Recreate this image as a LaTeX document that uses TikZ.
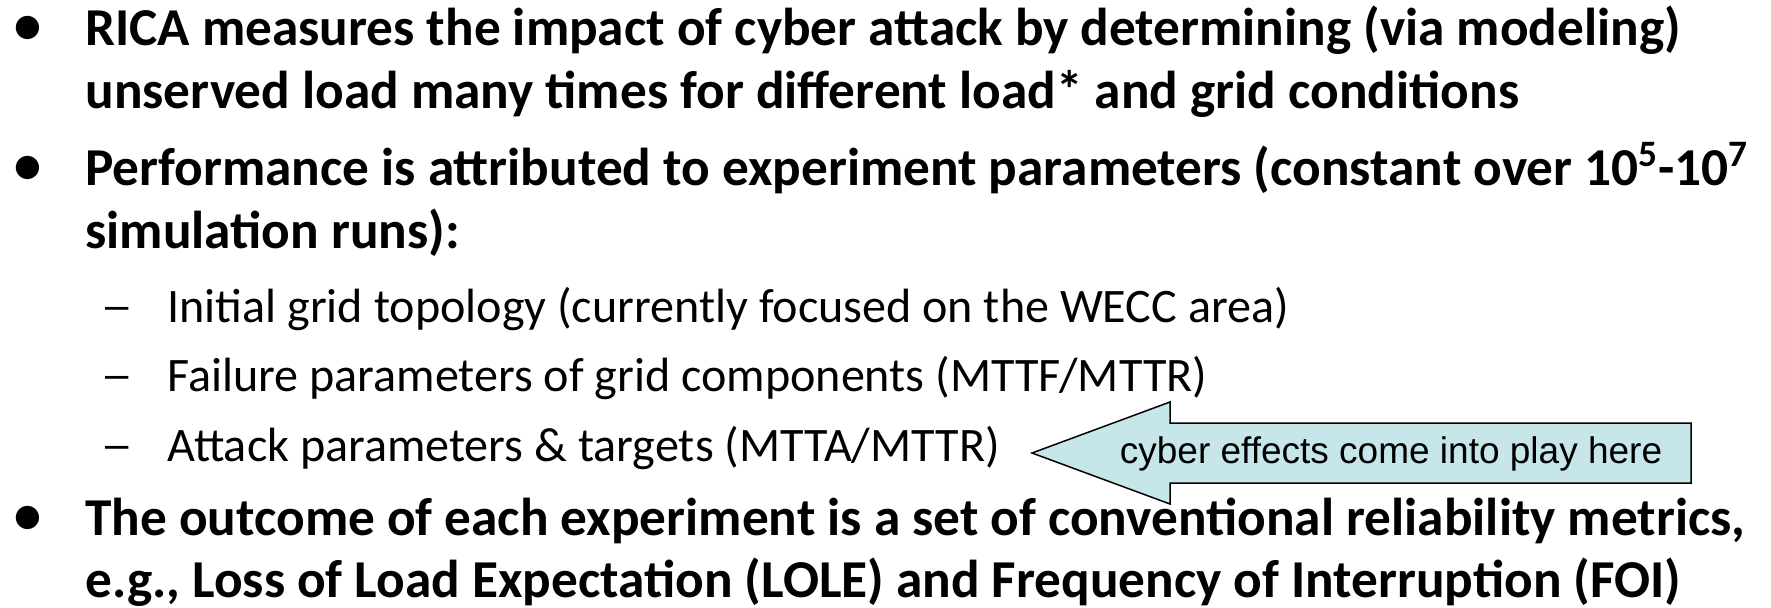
\documentclass[tikz,border=0pt]{standalone}
\usepackage{fontspec}
\setmainfont{Carlito}
\newfontfamily\calloutfont{Liberation Sans}
\definecolor{calloutfill}{RGB}{198,230,233}

\begin{document}
\begin{tikzpicture}[x=0.5pt,y=-0.5pt,
  main/.style = {anchor=base west, inner sep=0pt, font=\fontsize{26.65}{32}\selectfont\bfseries},
  sub/.style = {anchor=base west, inner sep=0pt, font=\fontsize{24.05}{29}\selectfont},
  dot/.style = {anchor=base west, inner sep=0pt, font=\fontsize{33}{38}\selectfont},
  subdash/.style = {anchor=base west, inner sep=0pt, font=\calloutfont\fontsize{21}{25}\selectfont},
  callout/.style = {draw=black, line width=0.75pt, fill=calloutfill, line join=miter}]
\useasboundingbox (0,0) rectangle (1771,607);
% first bullet
\node[dot] (b1) at (11,46) {•};
\node[main] (1) at (85,45) {RICA measures the impact of cyber attack by determining (via modeling)};
\node[main] (2) at (85,108) {unserved load many times for different load* and grid conditions};
% second bullet
\node[dot] (b2) at (11,186) {•};
\node[main] (3) at (85,185) {Performance is attributed to experiment parameters (constant over 10\textsuperscript{5}-10\textsuperscript{7}};
\node[main] (4) at (85,248) {simulation runs):};
\node[subdash] (d1) at (105,319) {–};
\node[sub] (5) at (167,322) {Initial grid topology (currently focused on the WECC area)};
\node[subdash] (d2) at (105,388) {–};
\node[sub] (6) at (167,391) {Failure parameters of grid components (MTTF/MTTR)};
\node[subdash] (d3) at (105,458) {–};
\node[sub] (7) at (167,461) {Attack parameters \& targets (MTTA/MTTR)};
% third bullet
\node[dot] (b3) at (11,536) {•};
\node[main] (8) at (85,535) {The outcome of each experiment is a set of conventional reliability metrics,};
\node[main] (9) at (85,597) {e.g., Loss of Load Expectation (LOLE) and Frequency of Interruption (FOI)};
% arrow pointing at the attack line
\draw[callout] (1032,453) -- (1170,402) -- (1170,423) -- (1691,423)
  -- (1691,483) -- (1170,483) -- (1170,504) -- cycle;
\node[anchor=base, inner sep=0pt, font=\calloutfont\fontsize{18.5}{22}\selectfont] (c) at (1391,463) {cyber effects come into play here};
\end{tikzpicture}
\end{document}
